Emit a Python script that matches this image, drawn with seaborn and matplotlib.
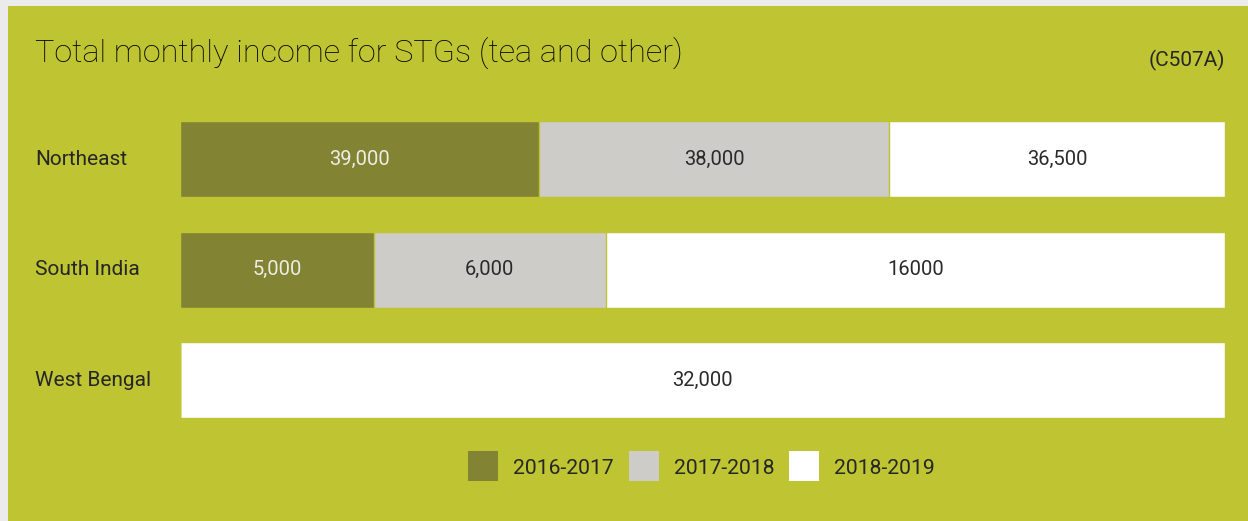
import matplotlib
matplotlib.use("Agg")
import matplotlib.pyplot as plt
from matplotlib.patches import Rectangle
from matplotlib.lines import Line2D
import numpy as np
import pandas as pd
import seaborn as sns

# Monthly income values per region and period
regions = ["Northeast", "South India", "West Bengal"]
periods = ["2016-2017", "2017-2018", "2018-2019"]
income_2016_17 = [39000, 5000, 0]
income_2017_18 = [38000, 6000, 0]
income_2018_19 = [36500, 16000, 32000]
value_labels = [
    ["39,000", "5,000", ""],
    ["38,000", "6,000", ""],
    ["36,500", "16000", "32,000"],
]

BG_OUTER = "#ebebeb"
BG_PANEL = "#bec432"
colors = ["#828434", "#cdccc9", "#ffffff"]
label_colors = ["#eeede4", "#2a2a2a", "#2a2a2a"]
TEXT = "#262626"
WEIGHT = "normal"

sns.set_theme(style="white")
plt.rcParams["font.family"] = ["Roboto", "DejaVu Sans"]

values = np.array([income_2016_17, income_2017_18, income_2018_19], dtype=float)
totals = values.sum(axis=0)
shares = values / totals
cum = np.cumsum(shares, axis=0)

fig = plt.figure(figsize=(12.48, 5.21), dpi=100, facecolor=BG_OUTER)
fig.patches.append(Rectangle((8 / 1248, 0), 1, 1 - 6 / 521, transform=fig.transFigure,
                             facecolor=BG_PANEL, edgecolor="none", zorder=-10))

ax = fig.add_axes([180 / 1248, 1 - 435.5 / 521, (1225 - 180) / 1248, 331.5 / 521])
ax.set_facecolor("none")
ax.set_zorder(5)

# Stack segments by drawing cumulative shares, widest first
for i in reversed(range(len(periods))):
    df = pd.DataFrame({"region": regions, "share": cum[i]})
    sns.barplot(data=df, x="share", y="region", orient="h", color=colors[i],
                saturation=1, width=0.69, edgecolor=BG_PANEL, linewidth=1.0, ax=ax)

# Value labels on each segment
for i in range(len(periods)):
    for j in range(len(regions)):
        if values[i, j] <= 0:
            continue
        left = cum[i, j] - shares[i, j]
        ax.text(left + shares[i, j] / 2, j, value_labels[i][j], ha="center", va="center",
                fontsize=14.5, color=label_colors[i], fontweight=WEIGHT)

ax.set_xlim(0, 1)
ax.set_ylim(2.5, -0.5)
ax.set_xlabel("")
ax.set_ylabel("")
ax.set_xticks([])
for s in ax.spines.values():
    s.set_visible(False)
ax.tick_params(axis="y", length=0, pad=(180 - 35) * 0.72)
for lbl in ax.get_yticklabels():
    lbl.set_horizontalalignment("left")
    lbl.set_verticalalignment("center")
    lbl.set_fontsize(15)
    lbl.set_color(TEXT)
    lbl.set_fontweight(WEIGHT)

fig.text(35 / 1248, 1 - 53 / 521, "Total monthly income for STGs (tea and other)",
         ha="left", va="center", fontsize=23.3, color="#000000", fontweight="light")
fig.text(1225 / 1248, 1 - 60 / 521, "(C507A)", ha="right", va="center",
         fontsize=15, color=TEXT, fontweight=WEIGHT)

handles = [Line2D([], [], linestyle="none", marker="s", markersize=21.6,
                  markerfacecolor=c, markeredgewidth=0) for c in colors]
leg = fig.legend(handles, periods, loc="center", bbox_to_anchor=(702 / 1248, 1 - 468 / 521),
                 ncol=3, frameon=False, fontsize=15.2, handlelength=1.36,
                 handletextpad=0.74, columnspacing=0.74, borderpad=0)
for t in leg.get_texts():
    t.set_color(TEXT)
    t.set_fontweight(WEIGHT)

fig.savefig("out.png", dpi=100, facecolor=BG_OUTER)
